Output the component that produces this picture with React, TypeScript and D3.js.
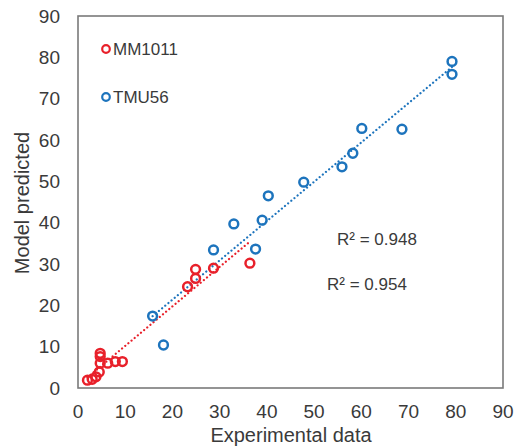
import React from "react";
import * as d3 from "d3";

const mmX = [2.0, 3.0, 3.8, 4.5, 4.7, 4.7, 4.7, 6.3, 7.9, 9.4, 23.2, 24.9, 24.9, 28.7, 36.4];
const mmY = [1.9, 2.1, 2.7, 3.9, 6.0, 7.6, 8.4, 6.0, 6.4, 6.4, 24.5, 26.5, 28.7, 29.0, 30.2];
const tmuX = [15.8, 18.1, 28.7, 33.0, 37.6, 39.0, 40.3, 47.8, 55.9, 58.2, 60.1, 68.6, 79.2, 79.2];
const tmuY = [17.4, 10.4, 33.4, 39.7, 33.6, 40.6, 46.5, 49.8, 53.5, 56.8, 62.8, 62.6, 79.0, 75.9];
const ticks = [0, 10, 20, 30, 40, 50, 60, 70, 80, 90];
const seriesNames = ["MM1011", "TMU56"];
const r2Labels = ["R² = 0.948", "R² = 0.954"];

const W = 522, H = 448;
const L = 78, R = 503, T = 16, B = 388;
const RED = "#e8202a";
const BLUE = "#1d74bd";
const TXT = "#3a3a3a";
const FONT = "'Liberation Sans', Arial, sans-serif";

function fit(xs: number[], ys: number[]) {
  const mx = d3.mean(xs)!, my = d3.mean(ys)!;
  let sxy = 0, sxx = 0;
  xs.forEach((x, i) => { sxy += (x - mx) * (ys[i] - my); sxx += (x - mx) ** 2; });
  const b = sxy / sxx;
  const a = my - b * mx;
  const x0 = d3.min(xs)!, x1 = d3.max(xs)!;
  return [[x0, a + b * x0], [x1, a + b * x1]] as [number, number][];
}

export default function App() {
  const x = d3.scaleLinear().domain([0, 90]).range([L, R]);
  const y = d3.scaleLinear().domain([0, 90]).range([B, T]);
  const line = d3.line<[number, number]>().x(d => x(d[0])).y(d => y(d[1]));
  const series = [
    { xs: mmX, ys: mmY, color: RED },
    { xs: tmuX, ys: tmuY, color: BLUE },
  ];
  return (
    <svg width={W} height={H} style={{ position: "absolute", left: 0, top: 0, background: "#fff" }} fontFamily={FONT}>
      <rect x={0} y={0} width={W} height={H} fill="#fff" />
      <rect x={L} y={T} width={R - L} height={B - T} fill="none" stroke="#7a7a7a" strokeWidth={1.6} />
      {ticks.map(t => (
        <text key={"x" + t} x={x(t)} y={418} fontSize={19} fill={TXT} textAnchor="middle">{t}</text>
      ))}
      {ticks.map(t => (
        <text key={"y" + t} x={60} y={y(t) + 6.8} fontSize={19} fill={TXT} textAnchor="end">{t}</text>
      ))}
      <text x={291} y={442} fontSize={20} fill={TXT} textAnchor="middle">Experimental data</text>
      <text transform={`translate(29,203) rotate(-90)`} fontSize={20} fill={TXT} textAnchor="middle">Model predicted</text>
      {series.map((s, i) => (
        <path key={"f" + i} d={line(fit(s.xs, s.ys))!} fill="none" stroke={s.color} strokeWidth={2.2} strokeDasharray="0.1 4" strokeLinecap="round" />
      ))}
      {series.map((s, i) => (
        <g key={"p" + i}>
          {s.xs.map((v, j) => (
            <circle key={j} cx={x(v)} cy={y(s.ys[j])} r={4.4} fill="none" stroke={s.color} strokeWidth={2.5} />
          ))}
        </g>
      ))}
      {seriesNames.map((n, i) => (
        <g key={n}>
          <circle cx={106} cy={49 + i * 48} r={3.8} fill="none" stroke={series[i].color} strokeWidth={2.2} />
          <text x={113} y={55 + i * 48} fontSize={17} fill={TXT}>{n}</text>
        </g>
      ))}
      <text x={337} y={245} fontSize={17} fill={TXT}>{r2Labels[0]}</text>
      <text x={327} y={290} fontSize={17} fill={TXT}>{r2Labels[1]}</text>
    </svg>
  );
}
